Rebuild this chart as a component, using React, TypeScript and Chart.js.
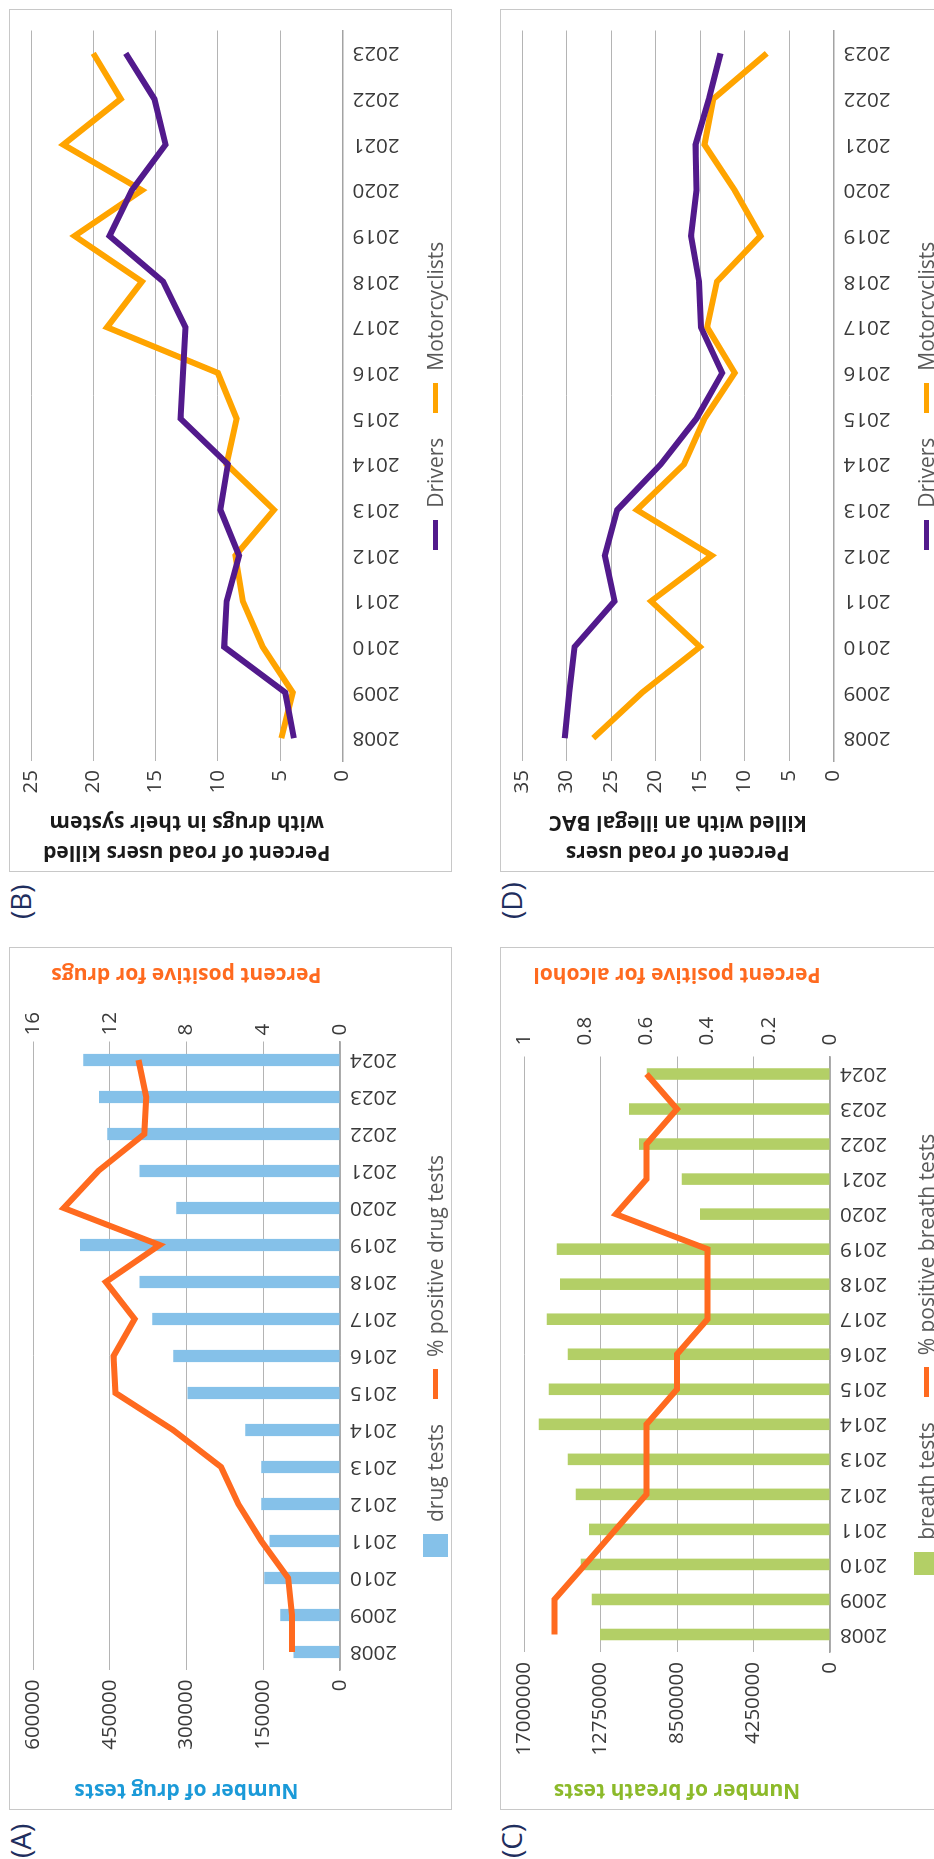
import React, { useEffect, useRef } from "react";
import { Chart, registerables } from "chart.js";

Chart.register(...registerables);

const FONT = "'Open Sans', 'Noto Sans', sans-serif";

// ---------- data ----------
const yearsAC = ["2008", "2009", "2010", "2011", "2012", "2013", "2014", "2015", "2016", "2017", "2018", "2019", "2020", "2021", "2022", "2023", "2024"];
const yearsBD = ["2008", "2009", "2010", "2011", "2012", "2013", "2014", "2015", "2016", "2017", "2018", "2019", "2020", "2021", "2022", "2023"];

const drugTests = [91000, 117000, 148000, 138000, 154000, 154000, 185000, 298000, 326000, 367000, 392000, 508000, 320000, 392000, 455000, 471000, 502000];
const drugPositive = [2.5, 2.5, 2.7, 4.1, 5.3, 6.2, 8.7, 11.7, 11.8, 10.7, 12.2, 9.4, 14.4, 12.6, 10.2, 10.1, 10.5];

const breathTests = [12780000, 13240000, 13850000, 13390000, 14130000, 14570000, 16180000, 15630000, 14570000, 15740000, 15000000, 15180000, 7220000, 8240000, 10610000, 11170000, 10180000];
const breathPositive = [0.9, 0.9, 0.8, 0.7, 0.6, 0.6, 0.6, 0.5, 0.5, 0.4, 0.4, 0.4, 0.7, 0.6, 0.6, 0.5, 0.6];

const drugDrivers = [3.9, 4.6, 9.5, 9.3, 8.3, 9.8, 9.2, 13.0, 12.8, 12.6, 14.4, 18.7, 16.9, 14.2, 15.1, 17.4];
const drugMotorcyclists = [4.9, 4.0, 6.4, 8.0, 8.6, 5.5, 9.3, 8.5, 10.0, 18.9, 16.1, 21.5, 16.1, 22.4, 17.8, 20.0];

const bacDrivers = [30.2, 29.7, 29.1, 24.6, 25.7, 24.3, 19.4, 15.4, 12.5, 14.9, 15.1, 16.0, 15.4, 15.5, 14.0, 12.7];
const bacMotorcyclists = [27.0, 21.5, 15.0, 20.5, 13.7, 22.1, 16.8, 14.5, 11.1, 14.2, 13.1, 8.2, 11.1, 14.5, 13.5, 7.5];

const drugTestTicks = [0, 150000, 300000, 450000, 600000];
const drugPctTicks = [0, 4, 8, 12, 16];
const breathTestTicks = [0, 4250000, 8500000, 12750000, 17000000];
const breathPctTicks = [0, 0.2, 0.4, 0.6, 0.8, 1];
const drugKilledTicks = [0, 5, 10, 15, 20, 25];
const bacKilledTicks = [0, 5, 10, 15, 20, 25, 30, 35];

// ---------- styles ----------
const TICK_COLOR = "#3a3a3a";
const GRID_COLOR = "#b4b4b4";
const AXIS_COLOR = "#a3a3a3";
const BLUE_BAR = "#85c1e9";
const GREEN_BAR = "#b3cf66";
const ORANGE_LINE = "#ff6a1f";
const PURPLE = "#521a8c";
const AMBER = "#ffa400";
const PANEL_W = 863;
const PANEL_H = 443;

type TitleItem = { lines: string[]; x: number; color: string; size: number; lineHeight: number };

function makeTitlePlugin(items: TitleItem[]) {
  return {
    id: "sideTitles",
    afterDraw(chart: any) {
      const { ctx, chartArea } = chart;
      const cy = (chartArea.top + chartArea.bottom) / 2;
      items.forEach((it) => {
        ctx.save();
        ctx.translate(it.x, cy);
        ctx.rotate(-Math.PI / 2);
        ctx.font = `bold ${it.size}px ${FONT}`;
        ctx.fillStyle = it.color;
        ctx.textAlign = "center";
        ctx.textBaseline = "middle";
        it.lines.forEach((l, i) => ctx.fillText(l, 0, i * it.lineHeight));
        ctx.restore();
      });
    },
  };
}

function valueScale(ticksArr: number[], width: number, position: string, padding: number, grid: boolean) {
  return {
    type: "linear",
    position,
    min: ticksArr[0],
    max: ticksArr[ticksArr.length - 1],
    afterBuildTicks: (s: any) => {
      s.ticks = ticksArr.map((v) => ({ value: v }));
    },
    afterFit: (s: any) => {
      s.width = width;
    },
    grid: grid
      ? { display: true, color: GRID_COLOR, lineWidth: 1, drawTicks: false }
      : { display: false, drawOnChartArea: false, drawTicks: false },
    border: { display: false },
    ticks: {
      padding,
      color: TICK_COLOR,
      font: { family: FONT, size: 20.5 },
      callback: (v: any) => String(v),
    },
  };
}

function categoryScale(height: number) {
  return {
    type: "category",
    offset: true,
    grid: { display: false, drawTicks: false },
    border: { display: true, color: AXIS_COLOR, width: 1.5 },
    ticks: {
      minRotation: 90,
      maxRotation: 90,
      autoSkip: false,
      padding: 10,
      color: TICK_COLOR,
      font: { family: FONT, size: 20.5 },
    },
    afterFit: (s: any) => {
      s.height = height;
    },
  };
}

function comboConfig(p: {
  years: string[];
  bars: number[];
  barColor: string;
  barLabel: string;
  line: number[];
  lineLabel: string;
  leftTicks: number[];
  rightTicks: number[];
  leftWidth: number;
  rightWidth: number;
  leftPad: number;
  rightPad: number;
  xHeight: number;
  top: number;
  titles: TitleItem[];
}) {
  return {
    type: "bar",
    data: {
      labels: p.years,
      datasets: [
        {
          type: "line",
          label: p.lineLabel,
          data: p.line,
          borderColor: ORANGE_LINE,
          backgroundColor: ORANGE_LINE,
          borderWidth: 6,
          pointRadius: 0,
          tension: 0,
          borderJoinStyle: "miter",
          yAxisID: "y1",
          order: 0,
        },
        {
          type: "bar",
          label: p.barLabel,
          data: p.bars,
          backgroundColor: p.barColor,
          barPercentage: 0.33,
          categoryPercentage: 1,
          yAxisID: "y",
          order: 1,
        },
      ],
    },
    options: {
      responsive: false,
      animation: false,
      devicePixelRatio: 1,
      layout: { padding: { top: p.top, left: 0, right: 0, bottom: 0 } },
      plugins: { legend: { display: false }, tooltip: { enabled: false } },
      scales: {
        x: categoryScale(p.xHeight),
        y: valueScale(p.leftTicks, p.leftWidth, "left", p.leftPad, true),
        y1: valueScale(p.rightTicks, p.rightWidth, "right", p.rightPad, false),
      },
    },
    plugins: [makeTitlePlugin(p.titles)],
  };
}

function linesConfig(p: {
  years: string[];
  drivers: number[];
  motor: number[];
  ticks: number[];
  leftWidth: number;
  rightPadding: number;
  xHeight: number;
  top: number;
  titles: TitleItem[];
}) {
  const ds = (label: string, data: number[], color: string) => ({
    label,
    data,
    borderColor: color,
    backgroundColor: color,
    borderWidth: 6,
    pointRadius: 0,
    tension: 0,
    borderJoinStyle: "miter",
  });
  return {
    type: "line",
    data: {
      labels: p.years,
      datasets: [ds("Drivers", p.drivers, PURPLE), ds("Motorcyclists", p.motor, AMBER)],
    },
    options: {
      responsive: false,
      animation: false,
      devicePixelRatio: 1,
      layout: { padding: { top: p.top, left: 0, right: p.rightPadding, bottom: 0 } },
      plugins: { legend: { display: false }, tooltip: { enabled: false } },
      scales: {
        x: categoryScale(p.xHeight),
        y: valueScale(p.ticks, p.leftWidth, "left", 9, true),
      },
    },
    plugins: [makeTitlePlugin(p.titles)],
  };
}

function ChartCanvas({ make }: { make: () => any }) {
  const ref = useRef<HTMLCanvasElement>(null);
  useEffect(() => {
    const chart = new Chart(ref.current as HTMLCanvasElement, make());
    return () => chart.destroy();
  }, []);
  return (
    <canvas
      ref={ref}
      width={PANEL_W}
      height={PANEL_H}
      style={{ position: "absolute", left: 0, top: 0, width: PANEL_W, height: PANEL_H }}
    />
  );
}

type LegendItem = { label: string; color: string; kind: "box" | "line" };

function Legend({ items, left, width, top }: { items: LegendItem[]; left: number; width: number; top: number }) {
  return (
    <div
      style={{
        position: "absolute",
        left,
        width,
        top,
        height: 25,
        display: "flex",
        justifyContent: "center",
        alignItems: "center",
        gap: 25,
        fontFamily: FONT,
        fontSize: 21,
        color: "#595959",
        whiteSpace: "nowrap",
        lineHeight: "25px",
      }}
    >
      {items.map((it) => (
        <div key={it.label} style={{ display: "flex", alignItems: "center", gap: 12 }}>
          <span
            style={{
              display: "inline-block",
              width: it.kind === "box" ? 23 : 30,
              height: it.kind === "box" ? 25 : 5,
              background: it.color,
            }}
          />
          <span>{it.label}</span>
        </div>
      ))}
    </div>
  );
}

function Panel(props: {
  left: number;
  top: number;
  make: () => any;
  legend: LegendItem[];
  chartLeft: number;
  chartRight: number;
  legendTop: number;
}) {
  return (
    <div style={{ position: "absolute", left: props.left, top: props.top, width: PANEL_W, height: PANEL_H }}>
      <ChartCanvas make={props.make} />
      <div
        style={{
          position: "absolute",
          left: 0,
          top: 0,
          width: PANEL_W,
          height: PANEL_H,
          boxSizing: "border-box",
          border: "1px solid #c8c8c8",
          pointerEvents: "none",
        }}
      />
      <Legend items={props.legend} left={props.chartLeft} width={props.chartRight - props.chartLeft} top={props.legendTop} />
    </div>
  );
}

function Label({ text, left, top }: { text: string; left: number; top: number }) {
  return (
    <div
      style={{
        position: "absolute",
        left,
        top,
        fontFamily: FONT,
        fontSize: 28,
        lineHeight: "28px",
        color: "#1f2e5e",
        whiteSpace: "nowrap",
      }}
    >
      {text}
    </div>
  );
}

export default function App() {
  const makeA = () =>
    comboConfig({
      years: yearsAC,
      bars: drugTests,
      barColor: BLUE_BAR,
      barLabel: "drug tests",
      line: drugPositive,
      lineLabel: "% positive drug tests",
      leftTicks: drugTestTicks,
      rightTicks: drugPctTicks,
      leftWidth: 139.5,
      rightWidth: 94.5,
      leftPad: 9,
      rightPad: 6,
      xHeight: 112,
      top: 24,
      titles: [
        { lines: ["Number of drug tests"], x: 20, color: "#1b9ad8", size: 21, lineHeight: 30 },
        { lines: ["Percent positive for drugs"], x: 836, color: ORANGE_LINE, size: 21, lineHeight: 30 },
      ],
    });
  const makeC = () =>
    comboConfig({
      years: yearsAC,
      bars: breathTests,
      barColor: GREEN_BAR,
      barLabel: "breath tests",
      line: breathPositive,
      lineLabel: "% positive breath tests",
      leftTicks: breathTestTicks,
      rightTicks: breathPctTicks,
      leftWidth: 158,
      rightWidth: 109.5,
      leftPad: 10,
      rightPad: 11,
      xHeight: 113,
      top: 24,
      titles: [
        { lines: ["Number of breath tests"], x: 20, color: "#8cba2a", size: 21, lineHeight: 30 },
        { lines: ["Percent positive for alcohol"], x: 836, color: ORANGE_LINE, size: 21, lineHeight: 30 },
      ],
    });
  const makeB = () =>
    linesConfig({
      years: yearsBD,
      drivers: drugDrivers,
      motor: drugMotorcyclists,
      ticks: drugKilledTicks,
      leftWidth: 111,
      rightPadding: 21.5,
      xHeight: 109.5,
      top: 22,
      titles: [
        {
          lines: ["Percent of road users killed", "with drugs in their system"],
          x: 20,
          color: "#1a1a1a",
          size: 21,
          lineHeight: 30,
        },
      ],
    });
  const makeD = () =>
    linesConfig({
      years: yearsBD,
      drivers: bacDrivers,
      motor: bacMotorcyclists,
      ticks: bacKilledTicks,
      leftWidth: 111,
      rightPadding: 21.5,
      xHeight: 109.5,
      top: 22,
      titles: [
        {
          lines: ["Percent of road users", "killed with an illegal BAC"],
          x: 20,
          color: "#1a1a1a",
          size: 21,
          lineHeight: 30,
        },
      ],
    });

  const legendAC = (bar: string, barColor: string, line: string): LegendItem[] => [
    { label: bar, color: barColor, kind: "box" },
    { label: line, color: ORANGE_LINE, kind: "line" },
  ];
  const legendBD: LegendItem[] = [
    { label: "Drivers", color: PURPLE, kind: "line" },
    { label: "Motorcyclists", color: AMBER, kind: "line" },
  ];

  return (
    <div
      style={{
        position: "absolute",
        left: 0,
        top: 0,
        width: 934,
        height: 1859,
        overflow: "hidden",
        background: "#ffffff",
      }}
    >
      <div
        style={{
          position: "absolute",
          left: 0,
          top: 0,
          width: 1859,
          height: 960,
          transformOrigin: "0 0",
          transform: "translate(0px, 1859px) rotate(-90deg)",
        }}
      >
        <Label text="(A)" left={1} top={6} />
        <Label text="(B)" left={940} top={6} />
        <Label text="(C)" left={1} top={497} />
        <Label text="(D)" left={940} top={497} />
        <Panel
          left={49}
          top={9}
          make={makeA}
          legend={legendAC("drug tests", BLUE_BAR, "% positive drug tests")}
          chartLeft={139.5}
          chartRight={768.5}
          legendTop={414}
        />
        <Panel
          left={987}
          top={9}
          make={makeB}
          legend={legendBD}
          chartLeft={111}
          chartRight={841.5}
          legendTop={413.5}
        />
        <Panel
          left={49}
          top={500}
          make={makeC}
          legend={legendAC("breath tests", GREEN_BAR, "% positive breath tests")}
          chartLeft={158}
          chartRight={753.5}
          legendTop={414}
        />
        <Panel
          left={987}
          top={500}
          make={makeD}
          legend={legendBD}
          chartLeft={111}
          chartRight={841.5}
          legendTop={413.5}
        />
      </div>
    </div>
  );
}
